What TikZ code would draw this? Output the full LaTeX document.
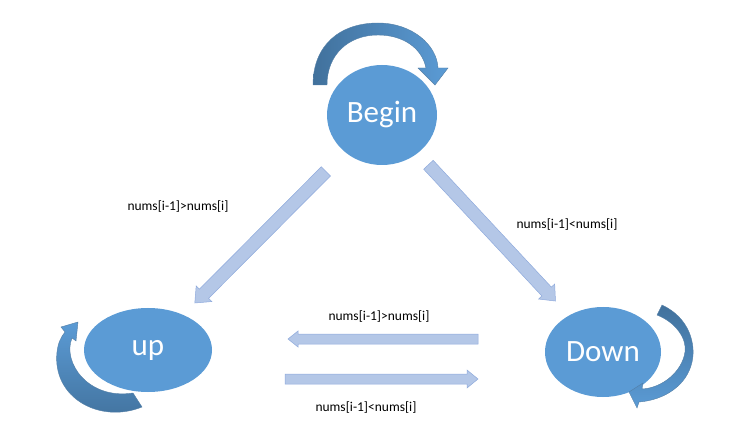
\documentclass[tikz,border=0pt]{standalone}
\usepackage{fontspec}
\setmainfont{Carlito}
\usepackage{tikz}
\usetikzlibrary{shapes.geometric, calc}

\definecolor{stateblue}{HTML}{5B9BD5}
\definecolor{loopdark}{HTML}{41719C}
\definecolor{arrowfill}{HTML}{B4C7E7}
\definecolor{arrowline}{HTML}{8FAADC}

% block arrow: from, to, shaft half width, head half width, head length
\newcommand{\blockarrow}[5]{%
  \path (#2) coordinate (ba-tip) ($(#2)!#5!(#1)$) coordinate (ba-base);
  \filldraw[blk] ($(#1)!#3!90:(#2)$) -- ($(ba-base)!#3!-90:(#1)$)
    -- ($(ba-base)!#4!-90:(#1)$) -- (ba-tip) -- ($(ba-base)!#4!90:(#1)$)
    -- ($(ba-base)!#3!90:(#1)$) -- ($(#1)!#3!-90:(#2)$) -- cycle;
}

\begin{document}
\begin{tikzpicture}[x=1pt, y=-1pt,
  state/.style={ellipse, fill=stateblue, text=white, inner sep=0pt,
    font=\fontsize{31}{33}\selectfont},
  blk/.style={fill=arrowfill, draw=arrowline, line width=0.5pt},
  loopy/.style={draw=loopdark!90, line width=0.4pt, shading=axis},
  lbl/.style={font=\fontsize{13.5}{15}\selectfont}]
  \useasboundingbox (0,0) rectangle (732,425);

  \node[state, minimum width=110pt, minimum height=100pt] (begin) at (382,115) {Begin};
  \node[state, minimum width=128pt, minimum height=84pt] (up) at (148,350) {up};
  \node[state, minimum width=116pt, minimum height=90pt] (down) at (603,352) {Down};

  % transitions
  \coordinate (bu1) at ($(begin)!0.24!(up)$);
  \coordinate (bu2) at ($(begin)!0.80!(up)$);
  \coordinate (bd1) at ($(begin)!0.21!(down)$);
  \coordinate (bd2) at ($(begin)!0.785!(down)$);
  \coordinate (du1) at (478,339);
  \coordinate (du2) at (288,339);
  \coordinate (ud1) at (285,379);
  \coordinate (ud2) at (478,379);
  \blockarrow{bu1}{bu2}{6.5pt}{11pt}{13pt}
  \blockarrow{bd1}{bd2}{6.5pt}{11pt}{13pt}
  \blockarrow{du1}{du2}{5pt}{8pt}{10pt}
  \blockarrow{ud1}{ud2}{5pt}{9pt}{11pt}

  \node[lbl] (l1) at (178,207) {nums[i-1]>nums[i]};
  \node[lbl] (l2) at (567,225) {nums[i-1]<nums[i]};
  \node[lbl] (l3) at (379,317) {nums[i-1]>nums[i]};
  \node[lbl] (l4) at (366,408) {nums[i-1]<nums[i]};

  % self loops
  \path[loopy, left color=loopdark, right color=stateblue]
    (313,85) .. controls (313,45) and (340,23) .. (378,23)
    .. controls (412,23) and (437,45) .. (438,68) -- (448,68) -- (435,85)
    -- (418,68) -- (426,68) .. controls (422,48) and (403,35) .. (378,35)
    .. controls (348,35) and (327,55) .. (327,85) -- cycle;
  \path[loopy, top color=stateblue, bottom color=loopdark]
    (133,393) -- (142,407) .. controls (100,424) and (52,398) .. (57,352)
    .. controls (58,343) and (61,337) .. (65,332) -- (61,327) -- (78,322)
    -- (76,341) -- (72,338) .. controls (62,362) and (88,400) .. (133,393) -- cycle;
  \path[loopy, top color=loopdark, bottom color=stateblue]
    (657,315) -- (662,305) .. controls (690,318) and (696,345) .. (692,362)
    .. controls (687,385) and (665,400) .. (639,402) -- (637,408) -- (629,392)
    -- (643,383) -- (642,389) .. controls (662,388) and (682,372) .. (685,352)
    .. controls (687,338) and (675,322) .. (657,315) -- cycle;
\end{tikzpicture}
\end{document}
